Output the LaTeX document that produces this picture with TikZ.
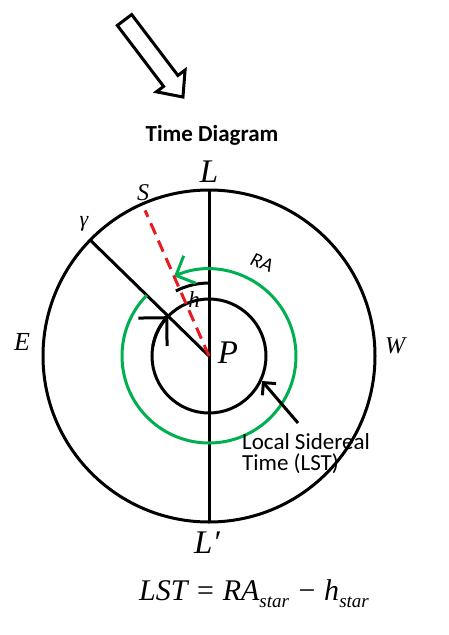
\documentclass[tikz,border=0pt]{standalone}
\usepackage{fontspec}
\setmainfont{Liberation Serif}
\newfontfamily\calibri{Carlito}
\usetikzlibrary{arrows.meta,calc}
\definecolor{ragreen}{RGB}{0,176,80}
\definecolor{starred}{RGB}{232,26,32}
\tikzset{
  ring/.style={draw=black,line width=3pt},
  raring/.style={draw=ragreen,line width=3pt},
  starline/.style={draw=starred,line width=3pt,dash pattern=on 12pt off 7pt},
  barb/.style={-{Straight Barb[length=#1,width=2*#1,line width=3pt]}},
  sym/.style={inner sep=0pt,font=\fontsize{#1}{#1}\selectfont\itshape},
  sans/.style={inner sep=0pt,font=\fontsize{#1}{#1}\selectfont\calibri}
}
\newcommand{\sbs}[1]{\raisebox{-7pt}{\fontsize{19}{19}\selectfont #1}}

\begin{document}
\begin{tikzpicture}[x=1pt,y=1pt]
\useasboundingbox (0,0) rectangle (448,-635);
% hollow arrow at the top
\begin{scope}[shift={(124.5,-20)},rotate=-52.8]
  \draw[line width=3pt,line join=miter] (0,9) -- (76.5,9) -- (76.5,18) -- (96.7,0)
    -- (76.5,-18) -- (76.5,-9) -- (0,-9) -- cycle;
\end{scope}
\node[font=\fontsize{23}{23}\selectfont\calibri\bfseries,inner sep=0pt,anchor=base] (title) at (212,-141) {Time Diagram};

\coordinate (P) at (209,-356);
\coordinate (Ltop) at ($(P)+(0,166)$);
\coordinate (Lbot) at ($(P)+(0,-166)$);
\coordinate (gam) at ($(P)+(135.7:166)$);
\coordinate (star) at ($(P)+(113.7:159)$);

\draw[ring] (P) circle[radius=166];
\draw[ring] (Ltop) -- (Lbot);
\draw[ring] (P) -- (gam);
\draw[ring] (P) circle[radius=57];
\draw[ring,barb=20pt] ($(P)+(170:57)$) arc[start angle=170,end angle=135.7,radius=57];
\draw[ring] ($(P)+(90:73)$) arc[start angle=90,end angle=117,radius=73];
\draw[raring,barb=15pt] ($(P)+(135.7:87)$) arc[start angle=135.7,end angle=473.7,radius=87];
\draw[starline] (P) -- (star);

% labels
\node[sym=33,anchor=base] (L) at (209,-182) {L};
\node[sym=33,anchor=base] (Lp) at (207,-553) {L′};
\node[sym=24,anchor=base] (S) at (143,-200) {S};
\node[sym=26,anchor=base] (E) at (22,-350) {E};
\node[sym=24,anchor=base] (W) at (395,-353) {W};
\node[sym=33,anchor=base] (Pl) at (228,-363) {P};
\node[sym=23,anchor=base] (h) at (194,-307) {h};
\node[sym=22] (g) at (84,-224) {γ};
\node[font=\fontsize{20}{20}\selectfont\calibri\itshape,inner sep=0pt,rotate=-22] (RA) at (262,-263) {RA};

\node[sans=23,align=left,anchor=north west] (lst) at (242,-433) {Local Sidereal\\[-2pt]Time (LST)};
\coordinate (lsttip) at (262,-381);
\draw[ring,barb=9pt] ($(lst.north west)+(56,10)$) -- (lsttip);

\node[sym=30,anchor=base] (eq) at (254,-600) {LST = RA\sbs{star} − h\sbs{star}};
\end{tikzpicture}
\end{document}
